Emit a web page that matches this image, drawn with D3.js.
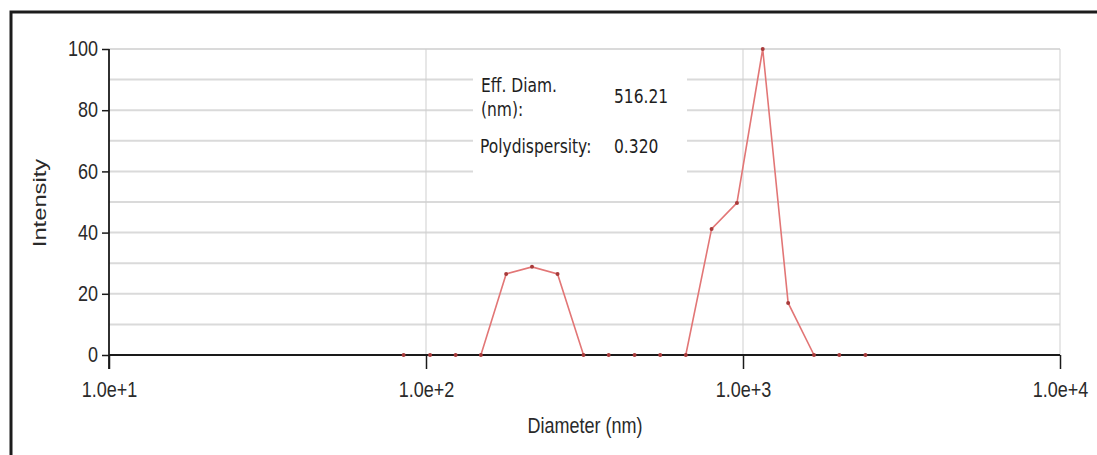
<!DOCTYPE html>
<html>
<head>
<meta charset="utf-8">
<script src="https://cdn.jsdelivr.net/npm/d3@7"></script>
<style>
  html, body { margin: 0; padding: 0; background: #fff; }
  svg { display: block; }
  .tick text { font-family: "Liberation Sans", Arial, sans-serif; fill: #2a2a2a; }
</style>
</head>
<body>
<svg width="1097" height="455"></svg>
<script>
// values
var diameters = [85, 103, 124, 149, 179, 216, 260, 314, 377, 455, 548, 660, 796, 957, 1154, 1388, 1675, 2013, 2433]
var intensity = [0, 0, 0, 0, 26.5, 28.8, 26.5, 0, 0, 0, 0, 0, 41.2, 49.7, 100, 17, 0, 0, 0]
var xMajor = [10, 100, 1000, 10000]
var xMajorLabels = ['1.0e+1', '1.0e+2', '1.0e+3', '1.0e+4']
var yMajor = [0, 20, 40, 60, 80, 100]
var yMinor = [10, 30, 50, 70, 90]
var infoLabels = ['Eff. Diam.', '(nm):', 'Polydispersity:']
var infoValues = ['516.21', '0.320']

var svg = d3.select('svg'),
    stretch = 'scale(1,1.25)'   // the source picture is stretched vertically

var data = diameters.map((d, i) => ({d: d, v: intensity[i]}))

var x = d3.scaleLog().domain([10, 10000]).range([109, 1060]),
    y = d3.scaleLinear().domain([0, 100]).range([355, 49])

var xMinor = []
xMajor.slice(0, -1).forEach(p => { for (var k = 2; k < 10; k++) xMinor.push(p * k) })

// outer frame, only left and top edges show
svg.append('path')
    .attr('d', 'M11,455V12H1097')
    .attr('fill', 'none')
    .attr('stroke', '#1c1c1c')
    .attr('stroke-width', 3)

// grid
svg.append('g').selectAll('line')
    .data(d3.range(10, 101, 10))
    .enter().append('line')
    .attr('x1', x(10)).attr('x2', x(10000))
    .attr('y1', d => y(d)).attr('y2', d => y(d))
    .attr('stroke', '#dadada')
    .attr('stroke-width', 2)

svg.append('g').selectAll('line')
    .data(xMajor.slice(1))
    .enter().append('line')
    .attr('x1', d => x(d)).attr('x2', d => x(d))
    .attr('y1', y(100)).attr('y2', y(0))
    .attr('stroke', '#cfcfcf')
    .attr('stroke-width', 1)

// info box
svg.append('rect')
    .attr('x', 473).attr('y', 62)
    .attr('width', 214).attr('height', 124)
    .attr('fill', '#fff')

var info = svg.append('g')
    .style('font-family', '"DejaVu Sans", Tahoma, sans-serif')
    .style('font-size', '15.5px')
    .style('fill', '#1e1e1e')

var infoPos = [[481, 92], [481, 116], [480, 153]]
info.selectAll('.lab')
    .data(infoLabels)
    .enter().append('text')
    .attr('class', 'lab')
    .attr('transform', (d, i) => `translate(${infoPos[i][0]},${infoPos[i][1]})` + stretch)
    .text(d => d)

var valPos = [[614, 103], [614, 153]]
info.selectAll('.val')
    .data(infoValues)
    .enter().append('text')
    .attr('class', 'val')
    .attr('transform', (d, i) => `translate(${valPos[i][0]},${valPos[i][1]})` + stretch)
    .text(d => d)

// series line, under the axes
var line = d3.line().x(d => x(d.d)).y(d => y(d.v))
svg.append('path')
    .datum(data)
    .attr('d', line)
    .attr('fill', 'none')
    .attr('stroke', '#e27676')
    .attr('stroke-width', 1.6)

// axes
var axisColor = '#1a1a1a'

var gx = svg.append('g').attr('transform', `translate(0,${y(0)})`)
gx.call(d3.axisBottom(x).tickValues(xMinor).tickSize(6).tickFormat(''))
gx.call(d3.axisBottom(x).tickValues(xMajor).tickSize(14)
    .tickFormat((d, i) => xMajorLabels[i]))
gx.selectAll('.domain').remove()
gx.selectAll('line').attr('stroke', axisColor).attr('stroke-width', 1.5)
gx.selectAll('text')
    .attr('y', 21)
    .attr('transform', stretch)
    .style('font-size', '18px')

var gy = svg.append('g').attr('transform', `translate(${x(10)},0)`)
gy.call(d3.axisLeft(y).tickValues(yMinor).tickSize(7).tickFormat(''))
gy.call(d3.axisLeft(y).tickValues(yMajor).tickSize(7))
gy.selectAll('.domain').remove()
gy.selectAll('line').attr('stroke', axisColor).attr('stroke-width', 1.5)
gy.selectAll('text')
    .attr('x', -11)
    .attr('dy', '0.3em')
    .attr('transform', stretch)
    .style('font-size', '18px')

svg.append('line')
    .attr('x1', x(10)).attr('x2', x(10))
    .attr('y1', y(100)).attr('y2', y(0) + 14)
    .attr('stroke', axisColor).attr('stroke-width', 1.8)
svg.append('line')
    .attr('x1', x(10)).attr('x2', x(10000))
    .attr('y1', y(0)).attr('y2', y(0))
    .attr('stroke', axisColor).attr('stroke-width', 2)

// markers
svg.append('g').selectAll('circle')
    .data(data)
    .enter().append('circle')
    .attr('cx', d => x(d.d))
    .attr('cy', d => y(d.v))
    .attr('r', 2)
    .attr('fill', '#a83a3a')

// axis titles
svg.append('text')
    .attr('transform', `translate(585,433)` + stretch)
    .attr('text-anchor', 'middle')
    .style('font-family', '"Liberation Sans", Arial, sans-serif')
    .style('font-size', '18px')
    .style('fill', '#2a2a2a')
    .text('Diameter (nm)')

svg.append('text')
    .attr('transform', `translate(46,203)` + stretch + 'rotate(-90)')
    .attr('text-anchor', 'middle')
    .style('font-family', '"Liberation Sans", Arial, sans-serif')
    .style('font-size', '19px')
    .style('fill', '#2a2a2a')
    .text('Intensity')
</script>
</body>
</html>
